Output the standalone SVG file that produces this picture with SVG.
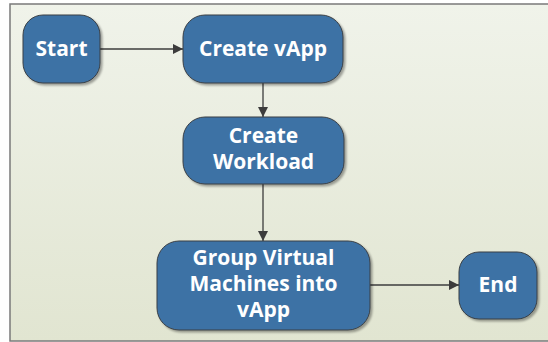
<svg xmlns="http://www.w3.org/2000/svg" width="548" height="342" viewBox="0 0 548 342">
  <defs>
    <linearGradient id="bg" x1="0" y1="0" x2="0" y2="1">
      <stop offset="0" stop-color="#f0f3ea"/>
      <stop offset="1" stop-color="#e1e5d1"/>
    </linearGradient>
    <marker id="arrow" viewBox="0 0 10 10" refX="10" refY="5" markerWidth="10" markerHeight="10" markerUnits="userSpaceOnUse" orient="auto">
      <path d="M0,0 L10,5 L0,10 Z" fill="#3c3c3c"/>
    </marker>
    <filter id="shadow" x="-10%" y="-10%" width="130%" height="130%">
      <feGaussianBlur in="SourceAlpha" stdDeviation="1.2"/>
      <feOffset dx="1.5" dy="1.5" result="b"/>
      <feComponentTransfer><feFuncA type="linear" slope="0.35"/></feComponentTransfer>
      <feMerge><feMergeNode/><feMergeNode in="SourceGraphic"/></feMerge>
    </filter>
    <style>
      .node { fill: #3d72a5; stroke: #3a3f45; stroke-width: 1; filter: url(#shadow); }
      .label { font-family: "Open Sans", "DejaVu Sans", sans-serif; font-weight: bold; font-size: 21px; fill: #ffffff; text-anchor: middle; }
      .edge { stroke: #3c3c3c; stroke-width: 1.3; fill: none; marker-end: url(#arrow); }
    </style>
  </defs>

  <!-- panel -->
  <rect x="10" y="4" width="545" height="337" fill="url(#bg)" stroke="#7a7a7a" stroke-width="1.5"/>

  <!-- connectors -->
  <g id="connectors">
    <line class="edge" x1="100" y1="49" x2="183" y2="49"/>
    <line class="edge" x1="263" y1="83" x2="263" y2="117"/>
    <line class="edge" x1="263" y1="184" x2="263" y2="241"/>
    <line class="edge" x1="370" y1="285" x2="459" y2="285"/>
  </g>

  <g id="start">
    <rect class="node" x="23" y="15" width="77" height="68" rx="20" ry="20"/>
    <text class="label" x="61.5" y="56">Start</text>
  </g>

  <g id="create-vapp">
    <rect class="node" x="183" y="15" width="160" height="68" rx="22" ry="22"/>
    <text class="label" x="263" y="56">Create vApp</text>
  </g>

  <g id="create-workload">
    <rect class="node" x="183" y="117" width="161" height="67" rx="22" ry="22"/>
    <text class="label" x="263.5" y="143">Create</text>
    <text class="label" x="263.5" y="169">Workload</text>
  </g>

  <g id="group-vms">
    <rect class="node" x="157" y="241" width="213" height="89" rx="22" ry="22"/>
    <text class="label" x="263.5" y="265">Group Virtual</text>
    <text class="label" x="263.5" y="291">Machines into</text>
    <text class="label" x="263.5" y="317">vApp</text>
  </g>

  <g id="end">
    <rect class="node" x="459" y="252" width="78" height="67" rx="20" ry="20"/>
    <text class="label" x="498" y="292">End</text>
  </g>
</svg>
